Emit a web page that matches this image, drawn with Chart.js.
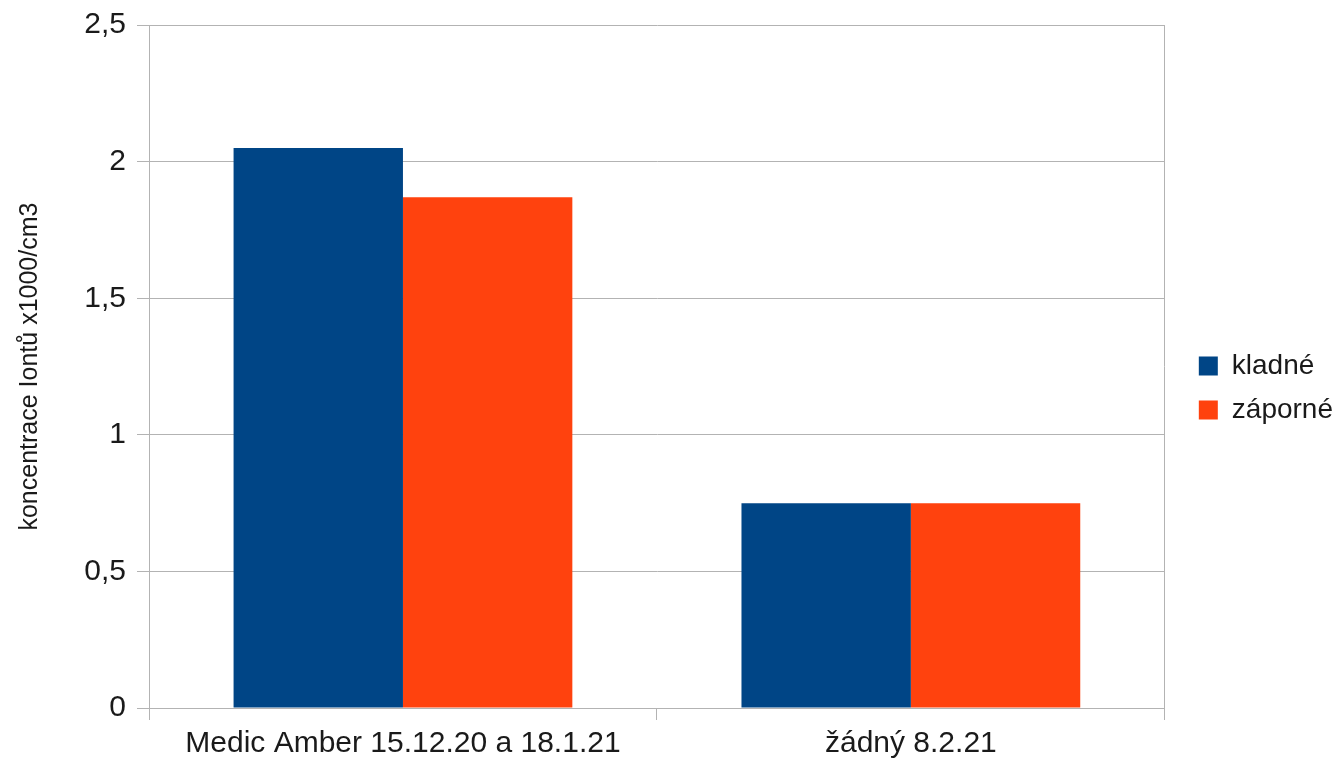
<!DOCTYPE html>
<html>
<head>
<meta charset="utf-8">
<script src="https://cdn.jsdelivr.net/npm/chart.js@4/dist/chart.umd.min.js"></script>
<style>
  body { margin: 0; background: #fff; }
  #wrap { width: 1343px; height: 761px; }
</style>
</head>
<body>
<div id="wrap"><canvas id="chart" width="1343" height="761"></canvas></div>
<script>
  // data
  const categories = ['Medic Amber 15.12.20 a 18.1.21', 'žádný 8.2.21'];
  const kladne = [2.05, 0.75];
  const zaporne = [1.87, 0.75];
  const yTickLabels = ['0', '0,5', '1', '1,5', '2', '2,5'];

  const gridGray = '#b3b3b3';
  const textColor = '#1a1a1a';
  const fontFamily = '"Liberation Sans", Arial, sans-serif';

  new Chart(document.getElementById('chart'), {
    type: 'bar',
    data: {
      labels: categories,
      datasets: [
        { label: 'kladné', data: kladne, backgroundColor: '#004586', barPercentage: 1, categoryPercentage: 0.667 },
        { label: 'záporné', data: zaporne, backgroundColor: '#ff420e', barPercentage: 1, categoryPercentage: 0.667 }
      ]
    },
    options: {
      responsive: false,
      animation: false,
      layout: { padding: { top: 15, left: 0, right: 0, bottom: 0 } },
      plugins: {
        tooltip: { enabled: false },
        legend: {
          position: 'right',
          labels: {
            boxWidth: 19,
            boxHeight: 19,
            padding: 16,
            color: textColor,
            font: { size: 28, family: fontFamily }
          }
        }
      },
      scales: {
        x: {
          grid: {
            offset: true,
            // only the right frame line goes over the plot, middle one stays a tick
            color: ctx => ctx.index === 1 ? 'rgba(0,0,0,0)' : gridGray,
            tickColor: gridGray,
            tickLength: 12
          },
          border: { color: gridGray },
          ticks: { color: textColor, padding: 9, font: { size: 30, family: fontFamily, lineHeight: 1 } },
          afterFit: s => { s.height = 53; }
        },
        y: {
          min: 0,
          max: 2.5,
          ticks: {
            stepSize: 0.5,
            padding: 11,
            color: textColor,
            font: { size: 30, family: fontFamily, lineHeight: 0.94 },
            callback: (v, i) => yTickLabels[i]
          },
          grid: { color: gridGray, tickLength: 12 },
          border: { color: gridGray },
          title: {
            display: true,
            text: 'koncentrace Iontů x1000/cm3',
            color: textColor,
            font: { size: 25, family: fontFamily },
            padding: { top: 15, bottom: 10 }
          },
          afterFit: s => { s.width = 149; }
        },
        // empty spacer between the plot and the legend
        gap: {
          position: 'right',
          display: true,
          grid: { display: false },
          ticks: { display: false },
          border: { display: false },
          afterFit: s => { s.width = 18; }
        }
      }
    }
  });
</script>
</body>
</html>
